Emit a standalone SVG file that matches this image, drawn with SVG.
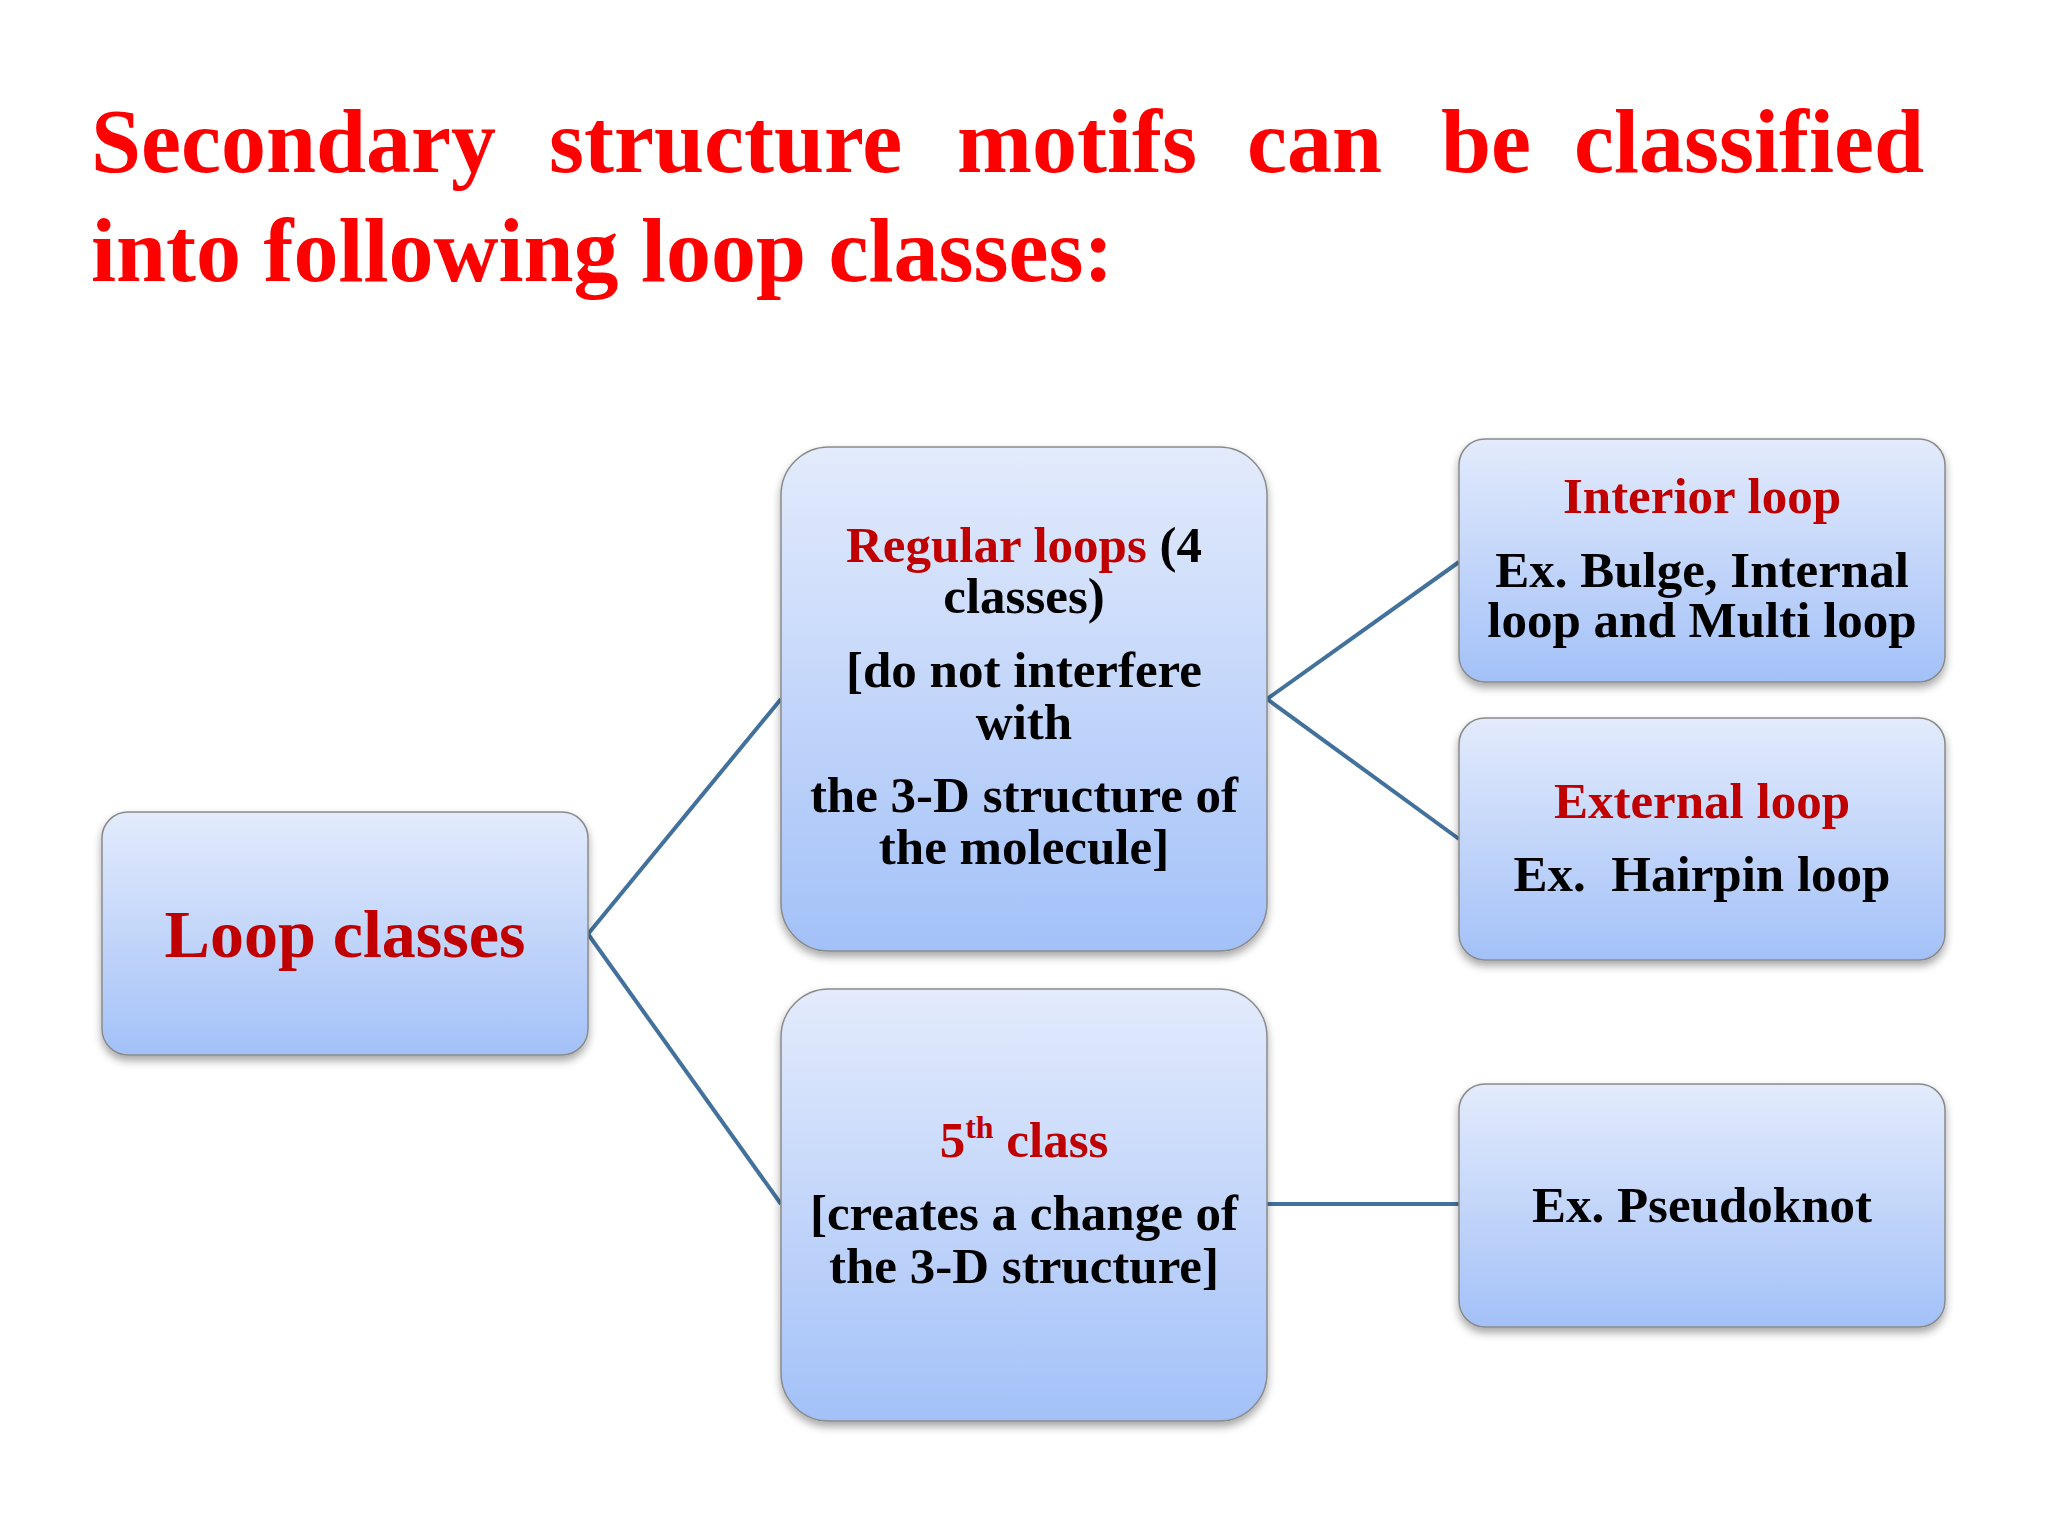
<svg xmlns="http://www.w3.org/2000/svg" width="2048" height="1536" viewBox="0 0 2048 1536">
<defs>
<linearGradient id="g" x1="0" y1="0" x2="0" y2="1">
<stop offset="0" stop-color="#E3EBFC"/>
<stop offset="1" stop-color="#A3C1F8"/>
</linearGradient>
<filter id="sh" x="-10%" y="-10%" width="120%" height="125%">
<feDropShadow dx="0" dy="5" stdDeviation="4" flood-color="#000" flood-opacity="0.35"/>
</filter>
<style>
.box{fill:url(#g);stroke:#8A8A8A;stroke-width:1.5;filter:url(#sh)}
.t{font-family:"Liberation Serif","Times New Roman",serif;font-weight:bold;text-anchor:middle;fill:#000}
.r{fill:#C00000}
.title{font-family:"Liberation Serif","Times New Roman",serif;font-weight:bold;font-size:90px;fill:#FF0000}
.c{stroke:#41719C;stroke-width:4;fill:none}
</style>
</defs>
<rect width="2048" height="1536" fill="#FFFFFF"/>
<g id="title">
<text class="title" y="172"><tspan x="91">Secondary</tspan><tspan x="549">structure</tspan><tspan x="957">motifs</tspan><tspan x="1247">can</tspan><tspan x="1441">be</tspan><tspan x="1574">classified</tspan></text>
<text class="title" x="91" y="281">into following loop classes:</text>
</g>
<g id="connectors">
<line class="c" x1="588" y1="934" x2="781" y2="699"/>
<line class="c" x1="588" y1="934" x2="781" y2="1204"/>
<line class="c" x1="1267" y1="699" x2="1459" y2="562"/>
<line class="c" x1="1267" y1="699" x2="1459" y2="839"/>
<line class="c" x1="1267" y1="1204" x2="1459" y2="1204"/>
</g>
<g id="loop-classes">
<rect class="box" x="102" y="812" width="486" height="243" rx="26"/>
<text class="t r" x="345" y="957" font-size="68">Loop classes</text>
</g>
<g id="regular-loops">
<rect class="box" x="781" y="447" width="486" height="504" rx="48"/>
<text class="t" x="1024" y="562" font-size="51"><tspan class="r">Regular loops</tspan> (4</text>
<text class="t" x="1024" y="613" font-size="51">classes)</text>
<text class="t" x="1024" y="687" font-size="51">[do not interfere</text>
<text class="t" x="1024" y="739" font-size="51">with</text>
<text class="t" x="1024" y="812" font-size="51">the 3-D structure of</text>
<text class="t" x="1024" y="864" font-size="51">the molecule]</text>
</g>
<g id="fifth-class">
<rect class="box" x="781" y="989" width="486" height="432" rx="48"/>
<text class="t r" x="1024" y="1157" font-size="51">5<tspan font-size="32" dy="-19">th</tspan><tspan dy="19"> class</tspan></text>
<text class="t" x="1024" y="1230" font-size="51">[creates a change of</text>
<text class="t" x="1024" y="1283" font-size="51">the 3-D structure]</text>
</g>
<g id="interior-loop">
<rect class="box" x="1459" y="439" width="486" height="243" rx="26"/>
<text class="t r" x="1702" y="513" font-size="51">Interior loop</text>
<text class="t" x="1702" y="587" font-size="51">Ex. Bulge, Internal</text>
<text class="t" x="1702" y="637" font-size="51">loop and Multi loop</text>
</g>
<g id="external-loop">
<rect class="box" x="1459" y="718" width="486" height="242" rx="26"/>
<text class="t r" x="1702" y="818" font-size="51">External loop</text>
<text class="t" x="1702" y="891" font-size="51" style="white-space:pre">Ex.  Hairpin loop</text>
</g>
<g id="pseudoknot">
<rect class="box" x="1459" y="1084" width="486" height="243" rx="26"/>
<text class="t" x="1702" y="1222" font-size="51">Ex. Pseudoknot</text>
</g>
</svg>
